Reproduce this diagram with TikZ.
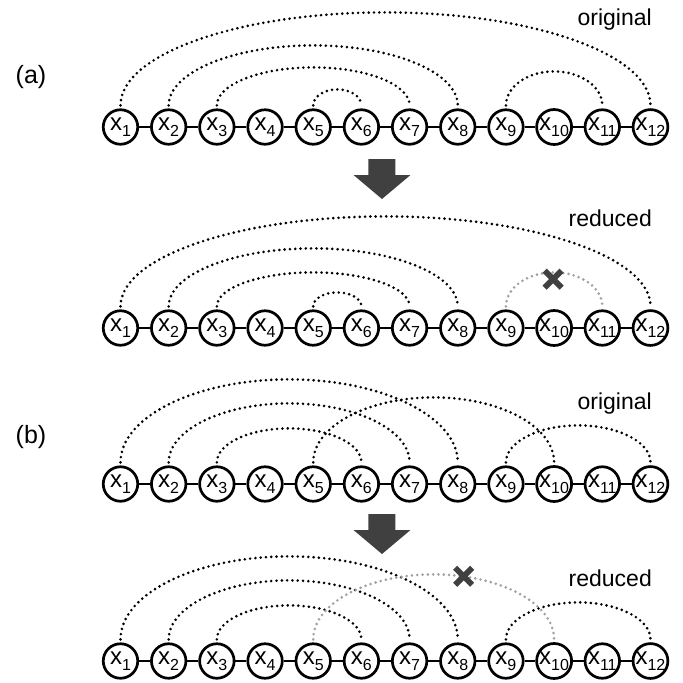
\documentclass[tikz,border=0pt]{standalone}
\usepackage{fontspec}
\setmainfont{Liberation Sans}
\usetikzlibrary{calc}
\definecolor{arrowgray}{HTML}{404040}
\definecolor{lightdot}{HTML}{A0A0A0}
\newcommand\xlab[1]{{\fontsize{24}{24}\selectfont x}\raisebox{-5.5pt}{\fontsize{16}{16}\selectfont #1}}
\begin{document}
\begin{tikzpicture}[x=1pt,y=1pt,
 xnode/.style={circle,draw,line width=2.7pt,minimum size=34.5pt,inner sep=0pt},
 chainline/.style={line width=2.6pt},
 dotarc/.style={line width=2.9pt,line cap=round,dash pattern=on 0pt off 5.3pt},
 grayarc/.style={dotarc,draw=lightdot},
 xmark/.style={line width=5.8pt,draw=arrowgray},
 lbl/.style={font=\fontsize{23}{23}\selectfont,anchor=base east,inner sep=0pt},
 tag/.style={font=\fontsize{25}{25}\selectfont,inner sep=0pt},
 bigarrow/.style={fill=arrowgray}]
\useasboundingbox (0,0) rectangle (683,-683);

\foreach \r/\y in {a/127,b/328,c/484,d/661}{
  \foreach \i in {1,...,12}{
    \node[xnode] (\r\i) at ({120.5+(\i-1)*48.18},-\y) {\xlab{\i}};
  }
  \foreach \i [evaluate=\i as \j using int(\i+1)] in {1,...,11}{
    \draw[chainline] (\r\i) -- (\r\j);
  }
}

\foreach \r/\i/\j/\h in {a/1/12/93,a/2/8/60,a/3/7/38,a/5/6/16,a/9/11/34,
  b/1/12/90,b/2/8/58,b/3/7/34,b/5/6/14,
  c/1/8/83,c/2/7/59,c/3/6/34,c/5/10/65,c/9/12/37,
  d/1/8/83,d/2/7/59,d/3/6/34,d/9/12/37}{
  \draw[dotarc] ([yshift=3pt]\r\i.north) arc[start angle=180,end angle=0,x radius={(\j-\i)*24.09},y radius=\h];
}
\draw[grayarc] ([yshift=3pt]b9.north) arc[start angle=180,end angle=0,x radius=48.18,y radius=34];
\draw[grayarc] ([yshift=3pt]d5.north) arc[start angle=180,end angle=0,x radius=120.45,y radius=65];

\coordinate (xm1) at ($(b10.north)+(-1,30)$);
\coordinate (xm2) at ($(d5.north)!0.5!(d10.north)+(30,66)$);
\foreach \m in {xm1,xm2}{
  \draw[xmark] ($(\m)+(-8.5,-8.5)$) -- ($(\m)+(8.5,8.5)$);
  \draw[xmark] ($(\m)+(-8.5,8.5)$) -- ($(\m)+(8.5,-8.5)$);
}

\coordinate (ar1) at ($(a6)!0.5!(a7)+(-3.5,-32)$);
\coordinate (ar2) at ($(c6)!0.5!(c7)+(-3.5,-30)$);
\foreach \a in {ar1,ar2}{
  \fill[bigarrow] (\a) ++(-13.5,0) -- ++(27,0) -- ++(0,-16) -- ++(15,0) -- ++(-28.5,-24) -- ++(-28.5,24) -- ++(15,0) -- cycle;
}

\node[lbl] (o1) at (652,-25) {original};
\node[lbl] (r1) at (652,-226) {reduced};
\node[lbl] (o2) at (652,-409) {original};
\node[lbl] (r2) at (652,-586) {reduced};
\node[tag] (ta) at (31,-77) {(a)};
\node[tag] (tb) at (31,-437) {(b)};
\end{tikzpicture}
\end{document}
